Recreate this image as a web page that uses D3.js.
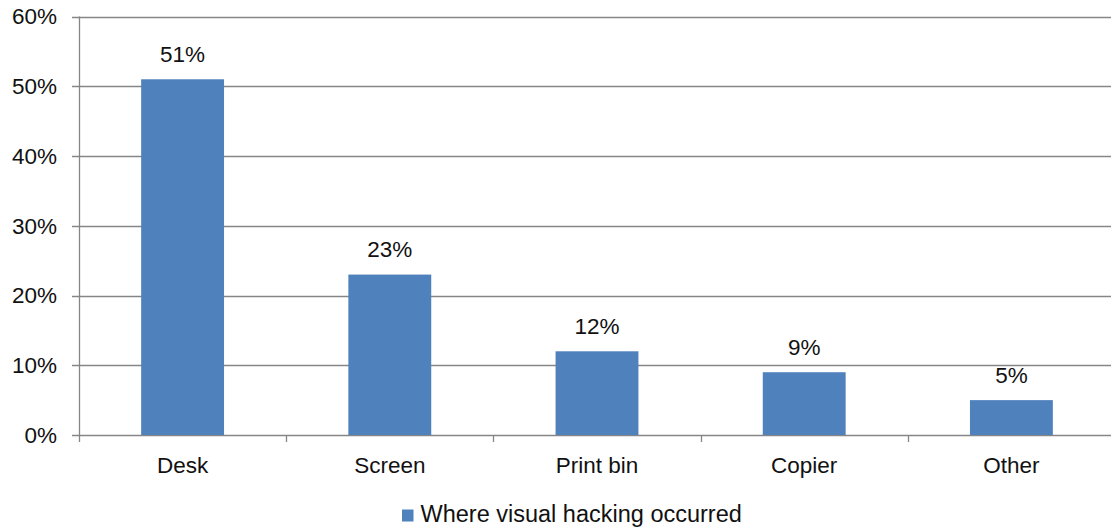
<!DOCTYPE html>
<html>
<head>
<meta charset="utf-8">
<script src="https://cdn.jsdelivr.net/npm/d3@7"></script>
<style>
  html, body { margin: 0; padding: 0; background: #fff; }
  svg { display: block; font-family: "Liberation Sans", Arial, sans-serif; }
</style>
</head>
<body>
<svg id="chart" width="1111" height="529"></svg>
<script>
// Where visual hacking occurred — share of incidents by location
const categories = ["Desk", "Screen", "Print bin", "Copier", "Other"];
const values = [51, 23, 12, 9, 5];
const yTicks = [0, 10, 20, 30, 40, 50, 60];
const seriesName = "Where visual hacking occurred";

const svg = d3.select("#chart");
const plot = { left: 79, right: 1115, top: 16.5, bottom: 435 };
const barColor = "#4F81BD";
const gridColor = "#868686";
const textColor = "#111";
const fontSize = 22.5;

const x = d3.scaleBand()
  .domain(categories)
  .range([plot.left, plot.right])
  .paddingInner(0.6)
  .paddingOuter(0.3);

const y = d3.scaleLinear()
  .domain([0, 60])
  .range([plot.bottom, plot.top]);

// horizontal gridlines, extending slightly left of the axis as tick marks
svg.append("g")
  .selectAll("line")
  .data(yTicks)
  .join("line")
  .attr("x1", plot.left - 7)
  .attr("x2", plot.right)
  .attr("y1", d => Math.round(y(d)) + 0.5)
  .attr("y2", d => Math.round(y(d)) + 0.5)
  .attr("stroke", gridColor)
  .attr("stroke-width", 1.3);

// y tick labels
svg.append("g")
  .selectAll("text")
  .data(yTicks)
  .join("text")
  .attr("x", plot.left - 22)
  .attr("y", d => y(d))
  .attr("dy", "0.35em")
  .attr("text-anchor", "end")
  .attr("font-size", fontSize)
  .attr("fill", textColor)
  .text(d => d + "%");

// bars
svg.append("g")
  .selectAll("rect")
  .data(values)
  .join("rect")
  .attr("x", (d, i) => x(categories[i]))
  .attr("width", x.bandwidth())
  .attr("y", d => y(d))
  .attr("height", d => y(0) - y(d))
  .attr("fill", barColor);

// value labels
svg.append("g")
  .selectAll("text")
  .data(values)
  .join("text")
  .attr("x", (d, i) => x(categories[i]) + x.bandwidth() / 2)
  .attr("y", d => y(d) - 17.5)
  .attr("text-anchor", "middle")
  .attr("font-size", fontSize)
  .attr("fill", textColor)
  .text(d => d + "%");

// vertical axis line
svg.append("line")
  .attr("x1", plot.left + 0.5).attr("x2", plot.left + 0.5)
  .attr("y1", plot.top).attr("y2", plot.bottom + 7)
  .attr("stroke", gridColor)
  .attr("stroke-width", 1.3);

// category boundary ticks below the baseline
const step = x.step();
const boundaries = d3.range(categories.length + 1).map(i => plot.left + i * step);
svg.append("g")
  .selectAll("line")
  .data(boundaries.slice(1))
  .join("line")
  .attr("x1", d => Math.round(d) + 0.5)
  .attr("x2", d => Math.round(d) + 0.5)
  .attr("y1", plot.bottom)
  .attr("y2", plot.bottom + 7)
  .attr("stroke", gridColor)
  .attr("stroke-width", 1.3);

// category labels
svg.append("g")
  .selectAll("text")
  .data(categories)
  .join("text")
  .attr("x", d => x(d) + x.bandwidth() / 2)
  .attr("y", 473)
  .attr("text-anchor", "middle")
  .attr("font-size", fontSize)
  .attr("fill", textColor)
  .text(d => d);

// legend
const legend = svg.append("g").attr("transform", "translate(402,509.5)");
legend.append("rect")
  .attr("width", 11.5).attr("height", 12)
  .attr("fill", barColor);
legend.append("text")
  .attr("x", 18.5)
  .attr("y", 12.2)
  .attr("font-size", 23.5)
  .attr("fill", textColor)
  .text(seriesName);
</script>
</body>
</html>
